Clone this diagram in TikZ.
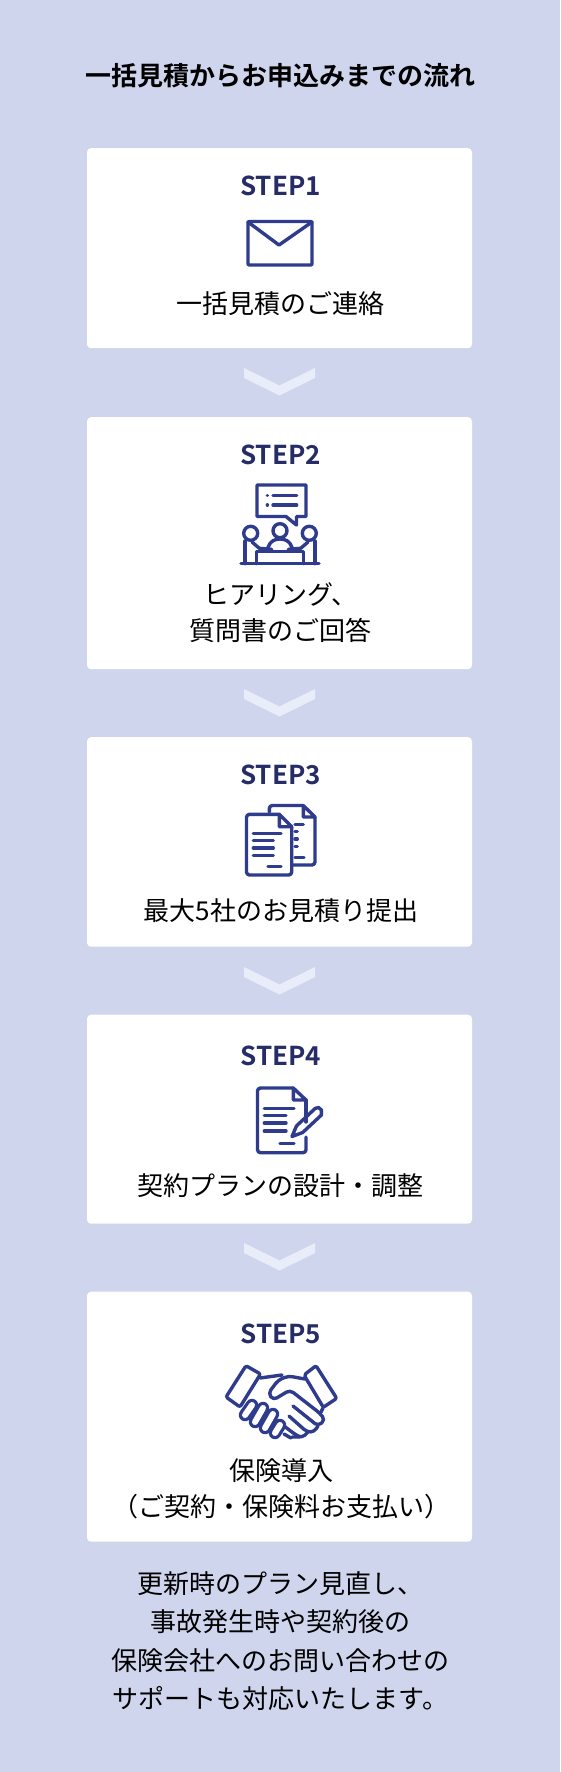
\documentclass[tikz,border=0pt]{standalone}
\usepackage{fontspec}
\setmainfont[BoldFont={Noto Sans CJK JP Bold}]{Noto Sans CJK JP}
\definecolor{pagecolor}{HTML}{CFD5EC}
\definecolor{chevroncolor}{HTML}{E9EDF9}
\definecolor{stepcolor}{HTML}{262C66}
\definecolor{iconcolor}{HTML}{2F3C8E}
\usetikzlibrary{positioning}

\begin{document}
\begin{tikzpicture}[x=1pt,y=-1pt]
	\tikzset{card/.style={fill=white,rounded corners=4pt,minimum width=385pt,inner sep=0pt,anchor=north}};
	\tikzset{steplabel/.style={font=\fontsize{26}{26}\selectfont\bfseries,text=stepcolor}};
	\tikzset{bodylabel/.style={font=\fontsize{26}{36}\selectfont,text=black,align=center}};
	\tikzset{iconline/.style={draw=iconcolor,line width=3.4pt,line cap=round,line join=round}};
	\tikzset{fingerpad/.style={line width=#1,line cap=round}};
	\tikzset{chevronmark/.pic={\fill[chevroncolor] (-35.5,0)--(0,17.5)--(35.5,0)--(35.5,10)--(0,27.5)--(-35.5,10)--cycle;}};
	\useasboundingbox (0,0) rectangle (560,1772);
	\fill[pagecolor] (0,0) rectangle (560,1772);
	\node (headline) at (280,76) [font=\fontsize{26}{26}\selectfont\bfseries] {一括見積からお申込みまでの流れ};

	\node (cardone) at (279.5,148) [card,minimum height=200pt] {};
	\node (stepone) at (280.5,185.5) [steplabel] {STEP1};
	\node (textone) at (280.5,304) [bodylabel] {一括見積のご連絡};
	\draw[iconline,rounded corners=1pt] (248,221.5) rectangle (312,265);
	\draw[iconline] (248,222)--(279,245)--(312,222);
	\pic at (279.5,368) {chevronmark};

	\node (cardtwo) at (279.5,417) [card,minimum height=252pt] {};
	\node (steptwo) at (280.5,455) [steplabel] {STEP2};
	\node (texttwo) at (280.5,613) [bodylabel] {ヒアリング、\\質問書のご回答};
	\draw[iconline] (257,485)--(306,485)--(306,516.5)--(296.5,516.5)--(296.5,525)--(286,516.5)--(257,516.5)--cycle;
	\draw[iconline] (267.3,495.7)--(267.4,495.7) (273,495.7)--(296.7,495.7);
	\draw[iconline] (267.3,505)--(267.4,505) (273,505)--(296.7,505);
	\draw[iconline] (250.7,533.3) circle (7);
	\draw[iconline] (280,530.7) circle (7);
	\draw[iconline] (309.3,533.3) circle (7);
	\draw[iconline] (241,563.7)--(319,563.7);
	\draw[iconline] (256.7,563.7)--(256.7,551.7)--(303.3,551.7)--(303.3,563.7);
	\draw[iconline] (245,541)--(245,563.7);
	\draw[iconline] (315,541)--(315,563.7);
	\draw[iconline] (252,542)--(259.3,548.3)--(271.7,549.3);
	\draw[iconline] (308,542)--(300.7,548.3)--(288.3,549.3);
	\draw[iconline] (268,547.5) .. controls (270,541) and (275,539) .. (280,539) .. controls (285,539) and (290,541) .. (292,547.5);
	\pic at (279.5,689) {chevronmark};

	\node (cardthree) at (279.5,737) [card,minimum height=209.5pt] {};
	\node (stepthree) at (280.5,774.5) [steplabel] {STEP3};
	\node (textthree) at (281,911) [bodylabel] {最大5社のお見積り提出};
	\draw[iconline,rounded corners=3pt] (279.3,814.3)--(246.5,814.3)--(246.5,875)--(291.7,875)--(291.7,826.7);
	\draw[iconline] (279.3,814.3)--(291.7,826.7)--(279.3,826.7)--cycle;
	\draw[iconline,rounded corners=3pt] (269.3,812)--(269.3,805.5)--(303.3,805.5);
	\draw[iconline,rounded corners=3pt] (315,817)--(315,865)--(293,865);
	\draw[iconline] (303.3,805.5)--(315,817)--(303.3,817)--cycle;
	\draw[iconline] (253.3,833.3)--(281,833.3) (253.3,840.7)--(273.3,840.7) (253.3,848)--(273.3,848) (253.3,855.3)--(273.3,855.3) (268,866.3)--(281,866.3);
	\draw[iconline] (295,824.3)--(303.3,824.3) (295,831.7)--(297.3,831.7) (295,839)--(297.3,839) (295,846.3)--(297.3,846.3) (295,857.3)--(304,857.3);
	\pic at (279.5,967) {chevronmark};

	\node (cardfour) at (279.5,1014.5) [card,minimum height=209pt] {};
	\node (stepfour) at (281,1056) [steplabel] {STEP4};
	\node (textfour) at (280.5,1186) [bodylabel] {契約プランの設計・調整};
	\draw[iconline] (306,1122)--(306,1100);
	\draw[iconline,rounded corners=3pt] (293.3,1088)--(257.5,1088)--(257.5,1152.7)--(306,1152.7)--(306,1137);
	\draw[iconline] (293.3,1088)--(306,1100)--(293.3,1100)--cycle;
	\draw[iconline] (264.3,1108.3)--(294,1108.3) (264.3,1115.7)--(286,1115.7) (264.3,1123)--(286,1123) (264.3,1131)--(286,1131) (280,1143.3)--(294,1143.3);
	\draw[iconline] (292,1136.5)--(296.5,1125.9)--(315.2,1108.4)--(318.5,1107.5)--(321.4,1110)--(321.4,1115)--(302.7,1132.5)--cycle;
	\pic at (279.5,1243) {chevronmark};

	\node (cardfive) at (279.5,1291.5) [card,minimum height=250pt] {};
	\node (stepfive) at (281,1333.5) [steplabel] {STEP5};
	\node (textfive) at (281,1489) [bodylabel] {保険導入\\（ご契約・保険料お支払い）};
	\draw[iconline,rounded corners=2pt] (246,1365.7)--(260.5,1374)--(240,1407)--(226,1397)--cycle;
	\draw[iconline,rounded corners=2pt] (316,1365.7)--(304,1375)--(323.3,1407.3)--(336.7,1398.3)--cycle;
	\draw[iconline,rounded corners=4pt] (305,1379)--(288.3,1376)--(278.3,1380)--(268.3,1393.3)--(273.3,1400)--(290,1390)--(320,1413.3)--(325,1420)--(318,1426)--(293,1406);
	\draw[iconline] (260,1378)--(282,1375);
	\draw[iconline,rounded corners=4pt] (318,1426)--(314,1432)--(307,1432)--(289,1416);
	\draw[iconline,rounded corners=4pt] (308,1432)--(302,1438)--(296,1435)--(284,1426);
	\draw[iconline,rounded corners=4pt] (300,1437)--(292,1437) (284,1434)--(291,1438);
	\draw[iconline] (323,1408)--(321,1412);
	\draw[iconcolor,fingerpad=12.5pt] (245,1415)--(252,1405) (255,1422)--(263,1408) (265,1428)--(273,1414) (275,1433)--(280,1425);
	\draw[white,fingerpad=6pt] (245,1415)--(252,1405) (255,1422)--(263,1408) (265,1428)--(273,1414) (275,1433)--(280,1425);

	\node (closing) at (280.5,1641) [font=\fontsize{26}{38.5}\selectfont,align=center] {更新時のプラン見直し、\\事故発生時や契約後の\\保険会社へのお問い合わせの\\サポートも対応いたします。};
\end{tikzpicture}
\end{document}
